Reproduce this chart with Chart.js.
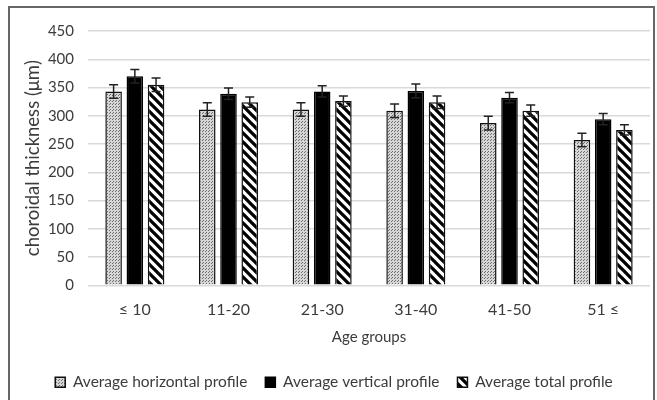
<!DOCTYPE html>
<html>
<head>
<meta charset="utf-8">
<script src="https://cdn.jsdelivr.net/npm/chart.js@4/dist/chart.umd.min.js"></script>
<style>
  body { margin: 0; background: #fff; }
  #frame {
    position: absolute; left: 8px; top: 6px;
    width: 647px; height: 396px;
    border: 2px solid #666; box-sizing: border-box;
  }
</style>
</head>
<body>
<div id="frame"><canvas id="chart" width="643" height="392"></canvas></div>
<script>
const ageGroups = ['\u2264 10', '11-20', '21-30', '31-40', '41-50', '51 \u2264'];
const horizontal = [343, 311, 311, 309, 287, 257];
const vertical = [370, 339, 343, 344, 332, 294];
const total = [355, 324, 326, 324, 309, 275];
const horizontalErr = [12, 12, 12, 12, 12, 12];
const verticalErr = [12, 10, 10, 12, 9, 10];
const totalErr = [12, 9, 9, 11, 10, 9];

function dotPattern() {
    const c = document.createElement('canvas');
    c.width = 3; c.height = 3;
    const g = c.getContext('2d');
    g.fillStyle = '#d6d6d6';
    g.fillRect(0, 0, 3, 3);
    g.fillStyle = '#6e6e6e';
    g.fillRect(0, 0, 1, 1);
    g.fillRect(1, 2, 1, 1);
    return g.createPattern(c, 'repeat');
}

function hatchPattern() {
    const s = 9;
    const c = document.createElement('canvas');
    c.width = s; c.height = s;
    const g = c.getContext('2d');
    g.fillStyle = '#fff';
    g.fillRect(0, 0, s, s);
    g.strokeStyle = '#000';
    g.lineWidth = 3.3;
    g.beginPath();
    g.moveTo(-s, 0); g.lineTo(s, 2 * s);
    g.moveTo(0, 0); g.lineTo(s, s);
    g.moveTo(0, -s); g.lineTo(2 * s, s);
    g.stroke();
    return g.createPattern(c, 'repeat');
}

// draws the +/- error whiskers on top of each bar
const errorBars = {
    id: 'errorBars',
    afterDatasetsDraw(chart) {
        const ctx = chart.ctx;
        const y = chart.scales.y;
        chart.data.datasets.forEach((ds, i) => {
            const meta = chart.getDatasetMeta(i);
            meta.data.forEach((bar, j) => {
                const v = ds.data[j], e = ds.errors[j];
                const top = y.getPixelForValue(v + e);
                const bot = y.getPixelForValue(v - e);
                ctx.save();
                ctx.strokeStyle = '#222';
                ctx.lineWidth = 1.5;
                ctx.beginPath();
                ctx.moveTo(bar.x, top); ctx.lineTo(bar.x, bot);
                ctx.moveTo(bar.x - 4.5, top); ctx.lineTo(bar.x + 4.5, top);
                ctx.moveTo(bar.x - 4.5, bot); ctx.lineTo(bar.x + 4.5, bot);
                ctx.stroke();
                ctx.restore();
            });
        });
    }
};

const font = 'Lato';
const textColor = '#3c3c3c';

new Chart(document.getElementById('chart'), {
    type: 'bar',
    data: {
        labels: ageGroups,
        datasets: [
            { label: 'Average horizontal profile', data: horizontal, errors: horizontalErr,
              backgroundColor: dotPattern(), borderColor: '#111', borderWidth: 1.5 },
            { label: 'Average vertical profile', data: vertical, errors: verticalErr,
              backgroundColor: '#000', borderColor: '#000', borderWidth: 1.5 },
            { label: 'Average total profile', data: total, errors: totalErr,
              backgroundColor: hatchPattern(), borderColor: '#111', borderWidth: 1.5 }
        ]
    },
    options: {
        responsive: false,
        animation: false,
        categoryPercentage: 0.68,
        barPercentage: 0.78,
        layout: { padding: { top: 14, right: 3, left: 8, bottom: 0 } },
        scales: {
            x: {
                grid: { display: false },
                border: { display: false },
                ticks: { color: textColor, font: { family: font, size: 16 }, padding: 7 },
                title: { display: true, text: 'Age groups', color: textColor,
                         font: { family: font, size: 15 }, padding: { top: 2, bottom: 10 } }
            },
            y: {
                min: 0, max: 450,
                ticks: { stepSize: 50, color: textColor, font: { family: font, size: 15 }, padding: 14 },
                grid: { color: '#d9d9d9', lineWidth: 1.5, drawTicks: false },
                border: { display: false },
                title: { display: true, text: 'choroidal thickness (\u03bcm)', color: textColor,
                         font: { family: font, size: 18.5 } },
                afterFit(scale) { scale.width = 70; }
            }
        },
        plugins: {
            legend: {
                position: 'bottom',
                labels: { color: textColor, font: { family: font, size: 15.5 },
                          boxWidth: 10, boxHeight: 10, padding: 18 }
            },
            tooltip: { enabled: false }
        }
    },
    plugins: [errorBars]
});
</script>
</body>
</html>
